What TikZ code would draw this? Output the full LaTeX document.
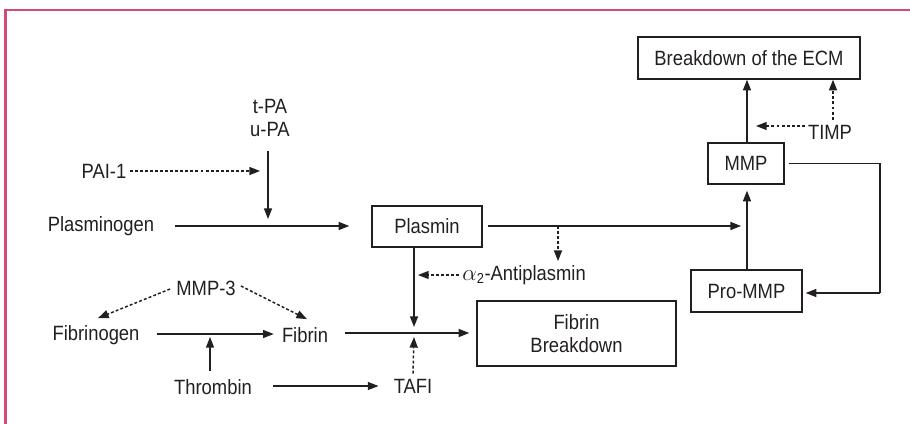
\documentclass[tikz,border=0pt]{standalone}
\usepackage{fontspec}
\setmainfont{Liberation Sans}[FakeStretch=0.89]
\usetikzlibrary{arrows.meta,calc}
\definecolor{ink}{RGB}{35,31,32}
\definecolor{frame}{RGB}{210,75,115}
\tikzset{
  x=0.75pt,y=-0.75pt,
  lbl/.style={inner sep=0pt,text=ink,font=\fontsize{15.5}{17.5}\selectfont},
  boxn/.style={lbl,draw=ink,line width=1pt,rectangle},
  arr/.style={draw=ink,line width=1.1pt,-{Triangle[length=8pt,width=6pt]}},
  darr/.style={arr,dash pattern=on 2.2pt off 1.6pt},
  ln/.style={draw=ink,line width=1.1pt},
}
\begin{document}
\begin{tikzpicture}
\useasboundingbox (0,0) rectangle (910,424);
% frame
\draw[frame,line width=1.6pt] (5.5,424) -- (5.5,10) -- (910,10);

% nodes
\node[lbl,align=center] (tpa) at (270,118) {t-PA\\u-PA};
\node[lbl] (pai) at (104,171) {PAI-1};
\node[lbl] (plg) at (101,226) {Plasminogen};
\node[boxn,minimum width=82.5pt,minimum height=30.75pt] (plasmin) at (427,226.5) {Plasmin};
\node[lbl,anchor=west] (anti) at (462,275) {{\fontsize{17}{17}\selectfont$\alpha$}\textsubscript{2}-Antiplasmin};
\node[boxn,minimum width=149.25pt,minimum height=48.75pt,align=center] (fb) at (576.5,333.5) {Fibrin\\Breakdown};
\node[lbl] (mmp3) at (206,288) {MMP-3};
\node[lbl] (fbg) at (96,335) {Fibrinogen};
\node[lbl] (fibrin) at (305,335) {Fibrin};
\node[lbl] (thr) at (213,387) {Thrombin};
\node[lbl] (tafi) at (413,386) {TAFI};
\node[boxn,minimum width=166.5pt,minimum height=31.5pt] (ecm) at (749,58) {Breakdown of the ECM};
\node[boxn,minimum width=57pt,minimum height=30.75pt] (mmp) at (746,163.5) {MMP};
\node[lbl] (timp) at (830,132) {TIMP};
\node[boxn,minimum width=83.25pt,minimum height=31.5pt] (pro) at (746.5,291) {Pro-MMP};

% junction coordinates
\coordinate (jplg) at (268,226);
\coordinate (jvert) at (747,226);
\coordinate (janti) at (558,226);
\coordinate (jfib) at (414,333);
\coordinate (jthr) at (210,335);
\coordinate (jmmp) at (747,126);
\coordinate (jr1) at (880,163.5);
\coordinate (jr2) at (880,293);

% connectors
\draw[arr] ($(tpa.south)+(-2,14)$) -- ($(jplg)+(0,-7)$);
\draw[darr] ($(pai.east)+(3,0)$) -- ($(jplg |- pai)+(-8,0)$);
\draw[arr] ($(plg.east |- jplg)+(21,0)$) -- ($(plasmin.west |- jplg)+(-22,0)$);
\draw[arr] ($(plasmin.east |- jvert)+(5,0)$) -- ($(jvert)+(-6,0)$);
\draw[darr] (janti) -- ($(janti |- anti.north)+(0,-4)$);
\draw[darr] ($(anti.west)+(-3,0)$) -- ($(jfib |- anti)+(4,0)$);
\draw[arr] (plasmin.south -| jfib) -- ($(jfib)+(0,-6)$);
\draw[ln] ($(fibrin.east |- jfib)+(17,0)$) -- (jfib);
\draw[arr] (jfib) -- ($(fb.west |- jfib)+(-7,0)$);
\draw[darr] ($(tafi.north)+(0,-5)$) -- ($(jfib)+(0,4)$);
\draw[arr] ($(thr.east |- tafi)+(21,0)$) -- ($(tafi.west)+(-15,0)$);
\draw[arr] ($(thr.north)+(-3,-8)$) -- ($(jthr)+(0,2)$);
\draw[arr] ($(fbg.east)+(17,-1)$) -- ($(fibrin.west)+(-8,-1)$);
\draw[darr] ($(mmp3.west)+(-6,1)$) -- ($(fbg.north)+(2,-7)$);
\draw[darr] ($(mmp3.east)+(5,-2)$) -- ($(fibrin.north)+(2,-8)$);
\draw[arr] (mmp.north -| jmmp) -- (ecm.south -| jmmp);
\draw[darr] ($(timp.west)+(-3,-6)$) -- ($(jmmp)+(9,0)$);
\draw[darr] ($(timp.north)+(3,-5)$) -- (ecm.south -| 833,0);
\draw[ln] ($(mmp.east)+(4,0)$) -- (jr1) -- (jr2);
\draw[arr] (jr2) -- ($(pro.east |- jr2)+(3,0)$);
\draw[arr] (pro.north -| jvert) -- ($(mmp.south -| jvert)+(0,6)$);
\end{tikzpicture}
\end{document}
